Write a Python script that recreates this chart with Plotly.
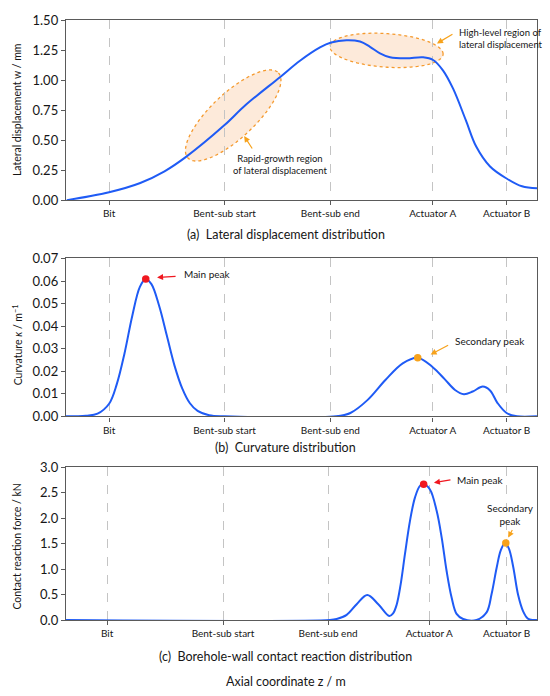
import numpy as np
import plotly.graph_objects as go
from plotly.subplots import make_subplots

# axial stations (tick positions on the shared axial coordinate)
STATION_NAMES = ["Bit", "Bent-sub start", "Bent-sub end", "Actuator A", "Actuator B"]
STATION_Z = [1.0, 4.0, 6.75, 9.41, 11.33]
STATION_Z_C = [0.95, 3.96, 6.69, 9.32, 11.33]

# (a) lateral displacement, mm
z_disp = [-0.1, 1.0, 1.81, 2.44, 2.99, 4.0, 4.54, 5.44, 5.96, 6.48, 6.77, 7.17, 7.52,
          7.78, 8.04, 8.30, 8.73, 9.16, 9.42, 9.68, 9.94, 10.27, 10.54, 10.9, 11.33,
          11.73, 12.12]
w_disp = [0.0, 0.066, 0.143, 0.24, 0.358, 0.625, 0.79, 1.024, 1.161, 1.272, 1.313, 1.332,
          1.321, 1.277, 1.222, 1.189, 1.181, 1.189, 1.167, 1.079, 0.928, 0.666, 0.446,
          0.28, 0.18, 0.115, 0.098]

# (b) curvature, 1/m
z_curv = [-0.12, 0.4, 0.7, 1.0, 1.2, 1.4, 1.6, 1.8, 1.95, 2.1, 2.3, 2.5, 2.7, 2.9, 3.1,
          3.3, 3.6, 4.0, 6.9, 7.27, 7.72, 8.18, 8.63, 9.02, 9.41, 9.72, 9.99, 10.22,
          10.45, 10.71, 10.9, 11.09, 11.33, 11.6, 12.12]
k_curv = [0.0, 0.0003, 0.0012, 0.0056, 0.0143, 0.0279, 0.0444, 0.0574, 0.0609, 0.0586,
          0.0490, 0.0358, 0.0225, 0.0124, 0.0058, 0.0024, 0.0005, 0.0, 0.0, 0.0015,
          0.0073, 0.0161, 0.0235, 0.026, 0.0218, 0.0165, 0.0117, 0.0098, 0.011, 0.0132,
          0.0115, 0.006, 0.0015, 0.0, 0.0]

# (c) borehole-wall contact reaction, kN
z_force = [-0.12, 6.74, 6.914, 7.174, 7.434, 7.709, 7.995, 8.281, 8.38, 8.473, 8.577,
           8.688, 8.818, 8.948, 9.078, 9.174, 9.338, 9.512, 9.642, 9.771, 9.901, 10.03,
           10.20, 10.55, 10.81, 10.94, 11.07, 11.18, 11.29, 11.39, 11.50, 11.63, 11.76,
           11.88, 12.01, 12.12]
f_force = [0.0, 0.0, 0.02, 0.10, 0.31, 0.49, 0.31, 0.08, 0.13, 0.30, 0.70, 1.29, 1.94,
           2.40, 2.63, 2.66, 2.56, 2.14, 1.62, 0.96, 0.44, 0.12, 0.02, 0.0, 0.15, 0.51,
           1.02, 1.37, 1.51, 1.40, 1.05, 0.49, 0.17, 0.03, 0.0, 0.0]

# highlighted peaks
curv_main = (1.953, 0.0609)
curv_second = (9.02, 0.026)
force_main = (9.174, 2.66)
force_second = (11.31, 1.51)

BLUE = "#1f5bf5"
RED = "#f01820"
ORANGE = "#f7a21b"
FONT = "Lato"
TEXT = "#161616"


def ellipse_path(c, u, v, n=90):
    t = np.linspace(0, 2 * np.pi, n)
    xs = c[0] + u[0] * np.cos(t) + v[0] * np.sin(t)
    ys = c[1] + u[1] * np.cos(t) + v[1] * np.sin(t)
    pts = [f"{x:.4f},{y:.4f}" for x, y in zip(xs, ys)]
    return "M " + " L ".join(pts) + " Z"


fig = make_subplots(rows=3, cols=1)

curve_line = dict(color=BLUE, width=2, shape="spline", smoothing=1.0)
fig.add_trace(go.Scatter(x=z_disp, y=w_disp, mode="lines", line=curve_line), row=1, col=1)
fig.add_trace(go.Scatter(x=z_curv, y=k_curv, mode="lines", line=curve_line), row=2, col=1)
fig.add_trace(go.Scatter(x=z_force, y=f_force, mode="lines", line=curve_line), row=3, col=1)

for (pz, pv), col, r in [(curv_main, RED, 2), (curv_second, ORANGE, 2),
                         (force_main, RED, 3), (force_second, ORANGE, 3)]:
    fig.add_trace(go.Scatter(x=[pz], y=[pv], mode="markers",
                             marker=dict(color=col, size=7.5)), row=r, col=1)

# highlighted regions in (a)
fill = "rgba(248,196,150,0.35)"
edge = dict(color="#f59a2e", width=1.3, dash="dot")
fig.add_shape(type="path", xref="x", yref="y", layer="below",
              path=ellipse_path((4.225, 0.705), (1.175, 0.355), (0.40, -0.134)),
              fillcolor=fill, line=edge)
fig.add_shape(type="path", xref="x", yref="y", layer="below",
              path=ellipse_path((8.21, 1.247), (1.47, -0.03), (0.0, 0.14)),
              fillcolor=fill, line=edge)


def arrow(x, y, ax, ay, color, xref, yref):
    fig.add_annotation(x=x, y=y, ax=ax, ay=ay, xref=xref, yref=yref, text="",
                       showarrow=True, arrowhead=2, arrowsize=1, arrowwidth=1.2,
                       arrowcolor=color, standoff=0)


def label(x, y, text, xref, yref, size=10, xanchor="left", align="left"):
    fig.add_annotation(x=x, y=y, xref=xref, yref=yref, text=text, showarrow=False,
                       xanchor=xanchor, yanchor="middle", align=align,
                       font=dict(family=FONT, size=size, color=TEXT))


arrow(9.52, 1.305, 17, -10, ORANGE, "x", "y")
label(10.04, 1.349, "High-level region of<br>lateral displacement", "x", "y", size=9.5)
arrow(4.51, 0.534, 9, 14, ORANGE, "x", "y")
label(5.447, 0.294, "Rapid-growth region<br>of lateral displacement", "x", "y",
      size=9.5, xanchor="center", align="center")

arrow(2.247, 0.0616, 20, -1, RED, "x2", "y2")
label(2.896, 0.0631, "Main peak", "x2", "y2")
arrow(9.356, 0.0274, 19, -10, ORANGE, "x2", "y2")
label(9.943, 0.0333, "Secondary peak", "x2", "y2")

arrow(9.442, 2.693, 18, -3, RED, "x3", "y3")
label(9.987, 2.746, "Main peak", "x3", "y3")
arrow(11.37, 1.616, 5, -9, ORANGE, "x3", "y3")
label(11.42, 2.074, "Secondary<br>peak", "x3", "y3", xanchor="center", align="center")

# captions and axis titles
cap_font = dict(family=FONT, size=12.5, color=TEXT)
for text, yp in [("(a)\u00a0 Lateral displacement distribution", 0.6424),
                 ("(b)\u00a0 Curvature distribution", 0.2869),
                 ("(c)\u00a0 Borehole-wall contact reaction distribution", -0.0608),
                 ("Axial coordinate z / m", -0.1021)]:
    fig.add_annotation(x=0.467, y=yp, xref="paper", yref="paper", text=text,
                       showarrow=False, xanchor="center", yanchor="middle", font=cap_font)

title_font = dict(family=FONT, size=10.5, color=TEXT)
for text, yref, yoff in [("Lateral displacement w / mm", "y domain", 0.5),
                         ("Curvature <i>κ</i> / m<sup>\u22121</sup>", "y2 domain", 0.45),
                         ("Contact reaction force / kN", "y3 domain", 0.48)]:
    fig.add_annotation(x=-0.104, y=yoff, xref="paper", yref=yref, text=text,
                       showarrow=False, textangle=-90, xanchor="center",
                       yanchor="middle", font=title_font)

axis_line = dict(showline=True, linecolor="#5a5a5a", linewidth=1.4, mirror=True,
                 ticks="outside", ticklen=4, tickcolor="#5a5a5a", zeroline=False)
for r, ticks in [(1, STATION_Z), (2, STATION_Z), (3, STATION_Z_C)]:
    fig.update_xaxes(row=r, col=1, range=[-0.12, 12.12], tickvals=ticks,
                     ticktext=STATION_NAMES, showgrid=True, gridcolor="#c4c4c4",
                     gridwidth=1, griddash="dash",
                     tickfont=dict(family=FONT, size=10, color=TEXT), **axis_line)

ytick_font = dict(family=FONT, size=13, color=TEXT)
fig.update_yaxes(row=1, col=1, range=[0, 1.5], dtick=0.25, tickformat=".2f",
                 domain=[0.6998, 1.0], showgrid=False, tickfont=ytick_font, **axis_line)
fig.update_yaxes(row=2, col=1, range=[0, 0.07], dtick=0.01, tickformat=".2f",
                 domain=[0.3394, 0.6026], showgrid=False, tickfont=ytick_font, **axis_line)
fig.update_yaxes(row=3, col=1, range=[0, 3.0], dtick=0.5, tickformat=".1f",
                 domain=[0.0, 0.2550], showgrid=False, tickfont=ytick_font, **axis_line)

fig.update_layout(width=550, height=696, showlegend=False,
                  margin=dict(l=66, r=13, t=16, b=76),
                  plot_bgcolor="white", paper_bgcolor="white",
                  font=dict(family=FONT, color=TEXT))

# page body has a default 8px margin; drop it so the figure sits at the corner
fig.write_html("out.html", config={"displayModeBar": False},
               post_script="document.body.style.margin='0px';")
